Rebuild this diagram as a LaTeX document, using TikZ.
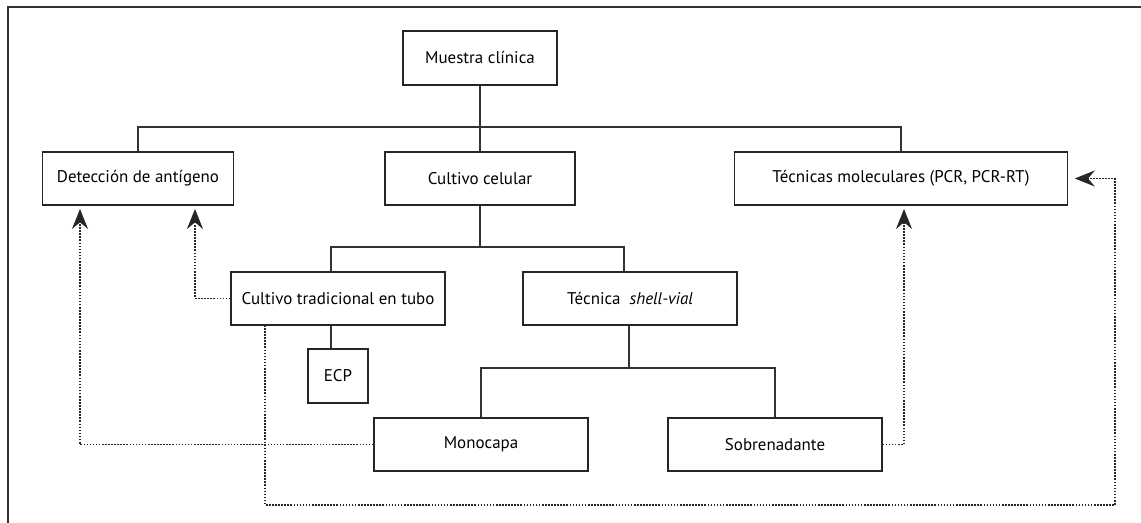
\documentclass[tikz,border=0pt]{standalone}
\usepackage{fontspec}
\setmainfont{PT Sans}
\usetikzlibrary{arrows.meta}

\begin{document}
\begin{tikzpicture}[x=0.75pt,y=-0.75pt]
\tikzstyle{box}=[rectangle, draw=black!85, line width=0.9pt, minimum height=53*0.75pt, inner sep=0pt, font=\fontsize{12.7}{14}\selectfont]
\tikzstyle{link}=[draw=black!80, line width=0.8pt]
\tikzstyle{dots}=[draw=black!85, line width=0.8pt, dash pattern=on 1.2pt off 1.1pt]
\tikzstyle{tip}=[-{Stealth[length=15pt, width=12pt, inset=5pt]}]
\useasboundingbox (0,0) rectangle (1141,523);
\draw[link] (1141,7) -| (8,523);

\node[box, minimum width=154*0.75pt, minimum height=54*0.75pt] (muestra) at (480,58) {Muestra clínica};
\node[box, minimum width=191*0.75pt] (deteccion) at (138,178.5) {Detección de antígeno};
\node[box, minimum width=190*0.75pt] (cultivo) at (480,178.5) {Cultivo celular};
\node[box, minimum width=333*0.75pt] (tecnicas) at (901,178.5) {Técnicas moleculares (PCR, PCR-RT)\hspace{20pt}};
\node[box, minimum width=214*0.75pt] (tradicional) at (338,298.5) {Cultivo tradicional en tubo};
\node[box, minimum width=214*0.75pt] (shellvial) at (630,298.5) {Técnica \ \textit{shell-vial}};
\node[box, minimum width=60*0.75pt, minimum height=54*0.75pt] (ecp) at (338,376) {ECP};
\node[box, minimum width=214*0.75pt] (monocapa) at (481,444.5) {Monocapa};
\node[box, minimum width=214*0.75pt] (sobrenadante) at (775,444.5) {Sobrenadante};

\coordinate (b1) at (480,127);
\coordinate (c1) at (331,247);
\coordinate (c2) at (624,247);
\coordinate (c3) at (629,368);
\coordinate (a1) at (80,205);
\coordinate (a2) at (195,205);
\coordinate (a3) at (904,205);
\coordinate (e1) at (265,325);
\coordinate (e2) at (1115,505);

\draw[link] (muestra) -- (cultivo);
\draw[link] (deteccion.north) |- (b1) -| (tecnicas.north);
\draw[link] (cultivo) -- (cultivo |- c1);
\draw[link] (c1 |- tradicional.north) -- (c1) -- (c2) -- (c2 |- shellvial.north);
\draw[link] (c1 |- tradicional.south) -- (c1 |- ecp.north);
\draw[link] (c3 |- shellvial.south) -- (c3);
\draw[link] (monocapa.north) |- (c3) -| (sobrenadante.north);

\draw[dots, tip, shorten >=3pt] (monocapa.west) -| (a1);
\draw[dots, tip, shorten >=3pt] (tradicional.west) -| (a2);
\draw[dots, tip, shorten >=3pt] (sobrenadante.east) -| (a3);
\draw[dots, tip, shorten >=5pt] (e1) |- (e2) |- (tecnicas.east);

  \end{tikzpicture}
\end{document}
